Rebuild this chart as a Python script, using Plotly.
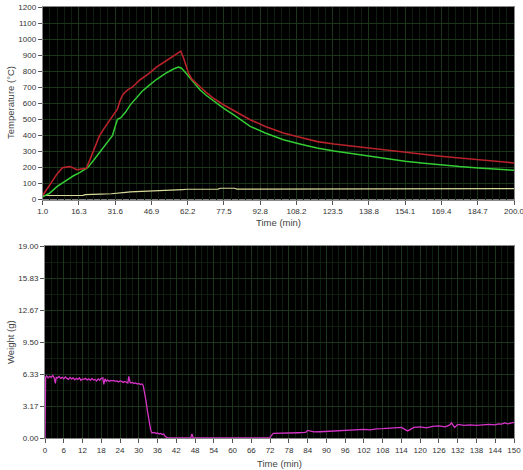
import plotly.graph_objects as go

# ---------- Top chart: temperatures ----------
temp_ticks = ["1.0", "16.3", "31.6", "46.9", "62.2", "77.5", "92.8", "108.2",
              "123.5", "138.8", "154.1", "169.4", "184.7", "200.0"]
temp_tickvals = [1.0, 16.3077, 31.6154, 46.9231, 62.2308, 77.5385, 92.8462, 108.1538,
                 123.4615, 138.7692, 154.0769, 169.3846, 184.6923, 200.0]

red_x = [1, 3, 5, 7, 9.3, 10.5, 12.4, 13.5, 14.5, 15.2, 16.5, 18, 19.4, 21, 23, 24.9, 27, 29.1,
         31, 32.6, 33.5, 34.5, 35.5, 37, 38.8, 42, 45.8, 49, 52.7, 56, 59.3, 60.5, 61.5, 62.5,
         64, 66, 68, 70, 73, 77.3, 82, 88.6, 95, 102.6, 110, 117, 124, 131, 139, 146, 154, 162,
         169, 177, 185, 192, 200]
red_y = [25, 70, 115, 158, 198, 202, 205, 200, 192, 186, 188, 192, 195, 250, 320, 395, 445, 490,
         530, 565, 610, 645, 665, 685, 700, 745, 785, 825, 860, 895, 925, 880, 830, 790,
         750, 720, 695, 668, 632, 591, 550, 497, 455, 415, 386, 361, 346, 334, 320, 306, 293, 281,
         270, 259, 249, 238, 228]

green_x = [1, 4, 7, 11, 14, 16.6, 18.5, 20, 22.5, 24.9, 28, 30.5, 31.5, 32.6, 34, 36, 38, 40.2,
           43, 45.8, 49, 52.7, 56, 58.3, 59.5, 61, 62.5, 64, 66, 67.4, 70, 73, 77.3, 82, 88.6,
           95, 102.6, 110, 116.8, 124, 131, 139, 146, 154, 162, 169, 177, 185, 192, 200]
green_y = [17, 40, 80, 120, 148, 168, 182, 198, 245, 290, 350, 400, 450, 500, 510, 545, 590, 630,
           675, 710, 748, 785, 812, 825, 820, 797, 772, 745, 710, 684, 650, 615, 570, 525, 456,
           415, 373, 345, 321, 303, 288, 270, 254, 239, 226, 214, 205, 197, 189, 182]

yellow_x = [1, 10, 18, 19, 24, 25, 30, 32, 36, 38, 44, 46, 52, 55, 60, 62, 75, 76, 82, 83,
            99, 100, 200]
yellow_y = [25, 25, 26, 30, 30, 34, 36, 40, 44, 47, 50, 53, 56, 59, 62, 64, 65, 70, 70, 65,
            65, 68, 68]

# ---------- Bottom chart: weight ----------
weight_ticks = ["0.00", "3.17", "6.33", "9.50", "12.67", "15.83", "19.00"]
weight_tickvals = [0, 19 / 6, 2 * 19 / 6, 3 * 19 / 6, 4 * 19 / 6, 5 * 19 / 6, 19]

w_x = [0, 0.2, 0.5, 1, 1.5, 2, 2.5, 3, 3.3, 3.6, 4, 4.5, 5, 5.5, 6, 6.5, 7, 7.5, 8, 8.5, 9,
       9.5, 10, 10.5, 11, 11.5, 12, 12.5, 13, 13.5, 14, 14.5, 15, 15.5, 16, 16.5, 17, 17.5, 18,
       18.5, 18.8, 19.2, 19.6, 20, 20.5, 21, 21.5, 22, 22.5, 23, 23.5, 24, 24.5, 25, 25.5, 26,
       26.5, 26.8, 27.2, 27.5, 28, 28.5, 29, 29.5, 30, 30.5, 31, 31.4, 31.8, 32.3, 32.8, 33.3,
       33.8, 34.2, 35, 35.5, 36, 36.5, 37, 37.5, 38, 38.5, 39, 40, 44, 46.6, 47, 47.4, 52, 60,
       66, 71.6, 71.8, 73, 75, 77, 79, 81, 83, 83.5, 84, 86, 88, 90, 92, 94, 96, 98, 100, 102,
       104, 106, 108, 110, 112, 113.5, 114, 116, 118, 120, 122, 124, 126, 128, 129, 129.5, 130,
       131, 132, 134, 136, 138, 140, 142, 144, 145, 146, 147, 148, 149, 150]
w_y = [0, 6.0, 6.15, 5.95, 6.1, 6.0, 6.2, 5.9, 5.4, 6.0, 5.95, 6.1, 5.9, 6.0, 5.85, 6.05, 5.9,
       5.8, 6.0, 5.85, 5.95, 5.75, 5.9, 5.8, 5.95, 5.7, 5.85, 5.8, 5.9, 5.75, 5.85, 5.7, 5.9,
       5.75, 5.8, 5.65, 5.85, 5.7, 5.9, 5.95, 5.3, 5.85, 5.6, 5.75, 5.6, 5.7, 5.65, 5.7, 5.6,
       5.65, 5.55, 5.65, 5.6, 5.5, 5.6, 5.55, 5.45, 6.1, 5.5, 5.45, 5.5, 5.4, 5.45, 5.35, 5.4,
       5.3, 5.35, 5.2, 4.6, 3.7, 2.6, 1.6, 0.8, 0.5, 0.55, 0.45, 0.5, 0.4, 0.45, 0.35, 0.4,
       0.15, 0.02, 0.0, 0.0, 0.0, 0.4, 0.0, 0.0, 0.0, 0.0, 0.0, 0.0, 0.45, 0.45, 0.5, 0.48,
       0.52, 0.55, 0.58, 0.75, 0.6, 0.62, 0.65, 0.72, 0.7, 0.78, 0.75, 0.82, 0.85, 0.8, 0.9,
       0.92, 0.95, 1.0, 0.97, 1.05, 0.7, 1.05, 1.1, 1.0, 1.15, 1.2, 1.1, 1.2, 1.3, 1.5, 1.05,
       1.35, 1.25, 1.3, 1.25, 1.3, 1.35, 1.3, 1.4, 1.38, 1.5, 1.4, 1.45, 1.55, 1.3, 1.45]

grid_major = "#1c361c"
grid_minor = "#0f1f0f"
xtick_font = dict(family="Liberation Sans, Arial, sans-serif", size=8, color="#333333")
ytick_font = dict(family="Liberation Sans, Arial, sans-serif", size=8, color="#333333")
title_font = dict(family="Liberation Sans, Arial, sans-serif", size=9.5, color="#444444")

fig = go.Figure()
fig.add_trace(go.Scatter(x=yellow_x, y=yellow_y, mode="lines",
                         line=dict(color="#d9d99a", width=1.2), xaxis="x", yaxis="y"))
fig.add_trace(go.Scatter(x=green_x, y=green_y, mode="lines",
                         line=dict(color="#33cc33", width=1.5), xaxis="x", yaxis="y"))
fig.add_trace(go.Scatter(x=red_x, y=red_y, mode="lines",
                         line=dict(color="#b8222a", width=1.6), xaxis="x", yaxis="y"))
fig.add_trace(go.Scatter(x=w_x, y=w_y, mode="lines",
                         line=dict(color="#d633c8", width=1.3), xaxis="x2", yaxis="y2"))

W, H = 523, 470
axis_common = dict(showline=True, linecolor="#888888", mirror=True, ticks="outside",
                   ticklen=4, tickcolor="#555555", zeroline=False,
                   ticklabeloverflow="allow", automargin=False)

fig.update_layout(
    width=W, height=H, margin=dict(l=0, r=0, t=0, b=0, autoexpand=False),
    paper_bgcolor="white", plot_bgcolor="black", showlegend=False,
    xaxis=dict(domain=[42.7 / W, 514 / W], range=[1, 200], tickvals=temp_tickvals,
               ticktext=temp_ticks, showgrid=True, gridcolor=grid_major, anchor="y",
               tickfont=xtick_font,
               minor=dict(tick0=1, dtick=199 / 65, showgrid=True, gridcolor=grid_minor, ticks=""),
               **axis_common),
    yaxis=dict(domain=[(H - 199.5) / H, (H - 7) / H], range=[0, 1200], tick0=0, dtick=100,
               showgrid=True, gridcolor=grid_major, anchor="x", tickfont=ytick_font,
               **axis_common),
    xaxis2=dict(domain=[45 / W, 514 / W], range=[0, 150], tick0=0, dtick=6,
                showgrid=True, gridcolor=grid_major, anchor="y2", tickfont=xtick_font,
                minor=dict(tick0=0, dtick=2, showgrid=True, gridcolor=grid_minor, ticks=""),
                **axis_common),
    yaxis2=dict(domain=[(H - 438) / H, (H - 246) / H], range=[0, 19], tickvals=weight_tickvals,
                ticktext=weight_ticks, showgrid=True, gridcolor=grid_major, anchor="x2",
                tickfont=ytick_font,
                minor=dict(tick0=0, dtick=19 / 12, showgrid=True, gridcolor=grid_minor, ticks=""),
                **axis_common),
    annotations=[
        dict(text="Time (min)", xref="paper", yref="paper", x=278 / W, y=(H - 223) / H,
             showarrow=False, font=title_font, xanchor="center", yanchor="middle"),
        dict(text="Time (min)", xref="paper", yref="paper", x=279 / W, y=(H - 463) / H,
             showarrow=False, font=title_font, xanchor="center", yanchor="middle"),
        dict(text="Temperature (°C)", xref="paper", yref="paper", x=10 / W, y=(H - 103) / H,
             showarrow=False, font=title_font, textangle=-90, xanchor="center", yanchor="middle"),
        dict(text="Weight (g)", xref="paper", yref="paper", x=10 / W, y=(H - 342) / H,
             showarrow=False, font=title_font, textangle=-90, xanchor="center", yanchor="middle"),
    ],
)

fig.write_html("out.html", config={"displayModeBar": False},
               post_script="document.body.style.margin='0';")
